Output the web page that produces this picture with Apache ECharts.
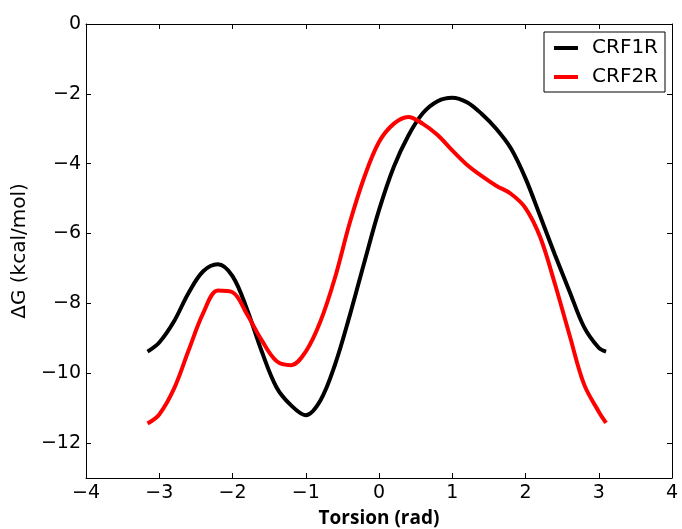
<!DOCTYPE html>
<html>
<head>
<meta charset="utf-8">
<script src="https://cdn.jsdelivr.net/npm/echarts@6/dist/echarts.min.js"></script>
<style>
  html, body { margin: 0; padding: 0; background: #fff; }
  #chart { width: 682px; height: 529px; }
</style>
</head>
<body>
<div id="chart"></div>
<script>
// Torsion angle grid (rad)
const torsion = [-3.16, -3.0, -2.8, -2.6, -2.4, -2.2, -2.0, -1.8, -1.6, -1.4, -1.2, -1.0,
  -0.8, -0.6, -0.4, -0.2, 0, 0.2, 0.4, 0.6, 0.8, 1.0, 1.2, 1.4, 1.6, 1.8, 2.0, 2.2, 2.4,
  2.6, 2.8, 3.0, 3.1];

// Free energy profiles (kcal/mol)
const crf1r = [-9.38, -9.12, -8.52, -7.70, -7.08, -6.88, -7.22, -8.18, -9.38, -10.40,
  -10.92, -11.20, -10.78, -9.75, -8.35, -6.82, -5.33, -4.10, -3.20, -2.55, -2.21, -2.11,
  -2.24, -2.57, -3.00, -3.56, -4.42, -5.50, -6.60, -7.65, -8.68, -9.27, -9.38];
const crf2r = [-11.44, -11.18, -10.45, -9.35, -8.28, -7.63, -7.68, -8.32, -9.06, -9.65,
  -9.77, -9.38, -8.52, -7.26, -5.70, -4.38, -3.38, -2.86, -2.66, -2.86, -3.18, -3.62,
  -4.03, -4.35, -4.63, -4.86, -5.27, -6.10, -7.43, -8.90, -10.32, -11.10, -11.42];

const xTicks = [-4, -3, -2, -1, 0, 1, 2, 3, 4];
const yTicks = [-12, -10, -8, -6, -4, -2, 0];

const pairs = ys => torsion.map((x, i) => [x, ys[i]]);
const minus = v => String(v).replace('-', '\u2212');

const tickFont = { fontFamily: 'DejaVu Sans', fontSize: 19, color: '#000' };
const lineStyle = { color: '#000', width: 1 };

const chart = echarts.init(document.getElementById('chart'), null, { renderer: 'canvas' });
chart.setOption({
  backgroundColor: '#fff',
  animation: false,
  grid: { left: 86, right: 10, top: 24, bottom: 51, containLabel: false, outerBoundsMode: 'none' },
  legend: {
    orient: 'vertical',
    right: 17, top: 32,
    padding: [6, 7, 5, 10],
    itemGap: 9,
    itemWidth: 24, itemHeight: 4,
    icon: 'rect',
    borderColor: '#000', borderWidth: 1,
    textStyle: { fontFamily: 'DejaVu Sans', fontSize: 20, lineHeight: 20, color: '#000', padding: [0, 0, 0, 9] },
    data: ['CRF1R', 'CRF2R']
  },
  xAxis: [
    {
      type: 'value', min: -4, max: 4, interval: 1,
      name: 'Torsion (rad)', nameLocation: 'middle', nameGap: 31,
      nameTextStyle: { fontFamily: 'Open Sans', fontWeight: 'bold', fontSize: 19, color: '#000' },
      axisLine: { show: true, onZero: false, lineStyle },
      axisTick: { show: true, inside: true, length: 5, lineStyle },
      axisLabel: { ...tickFont, margin: 6, formatter: minus, customValues: xTicks },
      splitLine: { show: false }
    },
    {
      type: 'value', min: -4, max: 4, interval: 1, position: 'top',
      axisLine: { show: true, onZero: false, lineStyle },
      axisTick: { show: true, inside: true, length: 5, lineStyle },
      axisLabel: { show: false },
      splitLine: { show: false }
    }
  ],
  yAxis: [
    {
      type: 'value', min: -13, max: 0,
      name: '\u0394G (kcal/mol)', nameLocation: 'middle', nameGap: 44, nameRotate: 90,
      nameTextStyle: { fontFamily: 'DejaVu Sans', fontSize: 20, color: '#000' },
      axisLine: { show: true, onZero: false, lineStyle },
      axisTick: { show: true, inside: true, length: 5, lineStyle, customValues: yTicks },
      axisLabel: { ...tickFont, margin: 5, formatter: minus, customValues: yTicks },
      splitLine: { show: false }
    },
    {
      type: 'value', min: -13, max: 0, position: 'right',
      axisLine: { show: true, onZero: false, lineStyle },
      axisTick: { show: true, inside: true, length: 5, lineStyle, customValues: yTicks },
      axisLabel: { show: false, customValues: yTicks },
      splitLine: { show: false }
    }
  ],
  series: [
    {
      name: 'CRF1R', type: 'line', data: pairs(crf1r),
      smooth: 0.35, showSymbol: false, symbol: 'none',
      lineStyle: { color: '#000', width: 4 }, itemStyle: { color: '#000' }
    },
    {
      name: 'CRF2R', type: 'line', data: pairs(crf2r),
      smooth: 0.35, showSymbol: false, symbol: 'none',
      lineStyle: { color: '#ff0000', width: 4 }, itemStyle: { color: '#ff0000' }
    }
  ]
});
</script>
</body>
</html>
